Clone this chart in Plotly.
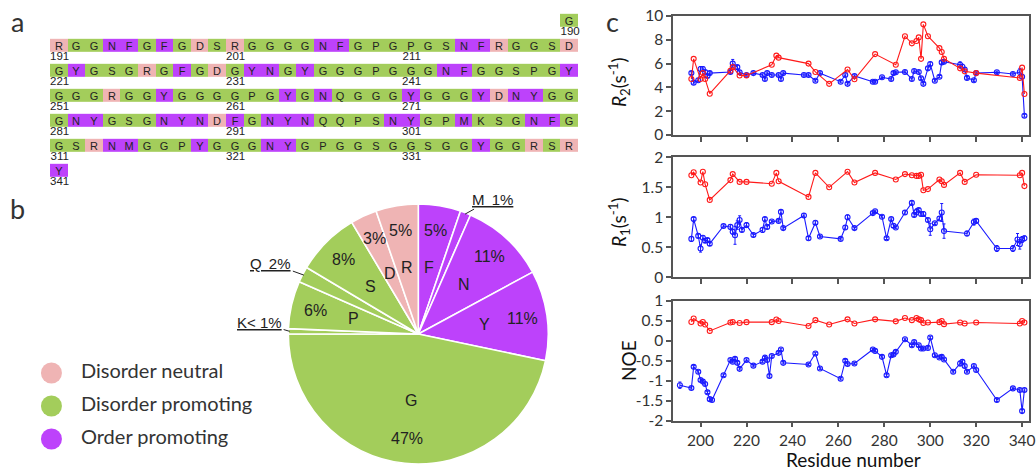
import numpy as np
import plotly.graph_objects as go

W, H = 1036, 470

# ---------------- data: sequence panel (a) ----------------
sequence = ("G"
            "RGGNFGFGDSRGGGGNFGPGPGSNFRGGSD"
            "GYGSGRGFGDGYNGYGGGPGGGNFGGSPGY"
            "GGGRGGYGGGGPGYGNQGGGYGGGYDNYGG"
            "GNYGSGNYNDFGNYNQQPSNYGPMKSGNFG"
            "GSRNMGGPYGGGNYGPGGSGGSGGYGGRSR"
            "Y")
first_residue = 190
row_start_residue = 191
residues_per_row = 30
label_residues = [190, 191, 201, 211, 221, 231, 241, 251, 261, 271, 281, 291,
                  301, 311, 321, 331, 341]

categories = ["Disorder neutral", "Disorder promoting", "Order promoting"]
category_members = [["D", "R"], ["G", "S", "P", "Q", "K"], ["F", "N", "Y", "M"]]
category_colors = ["#efb4b4", "#a3cd5b", "#bd42fb"]

# ---------------- data: composition pie (b) ----------------
pie_labels = ["F", "M", "N", "Y", "G", "K", "P", "Q", "S", "D", "R"]
pie_counts = [8, 2, 16, 17, 71, 1, 9, 3, 12, 5, 8]
pie_pct = ["5%", "1%", "11%", "11%", "47%", "< 1%", "6%", "2%", "8%", "3%", "5%"]
pie_outside = ["M", "Q", "K"]

# ---------------- data: relaxation (c) ----------------
red_res = [196, 197, 200, 201, 202, 204, 213, 214, 217, 220, 231, 233, 234, 247, 250,
           256, 264, 267, 276, 285, 289, 292, 294, 295, 296, 297, 299, 304, 305, 306,
           313, 315, 320, 339, 340, 341]
red_r2 = [4.7, 6.4, 4.7, 5.2, 4.7, 3.47, 5.4, 5.7, 5.0, 5.0, 5.9, 6.67, 6.5, 6.0, 5.3,
          4.3, 5.5, 4.68, 6.8, 5.9, 8.3, 7.7, 7.9, 8.2, 6.4, 9.3, 8.3, 7.3, 6.97, 6.4,
          5.6, 5.35, 5.2, 4.8, 5.66, 3.45]
red_r1 = [1.70, 1.75, 1.58, 1.76, 1.55, 1.29, 1.62, 1.72, 1.59, 1.59, 1.56, 1.74, 1.60,
          1.34, 1.74, 1.50, 1.76, 1.58, 1.74, 1.63, 1.72, 1.70, 1.69, 1.69, 1.71, 1.45,
          1.47, 1.63, 1.60, 1.54, 1.74, 1.59, 1.71, 1.70, 1.74, 1.52]
red_noe = [0.475, 0.56, 0.435, 0.475, 0.41, 0.25, 0.46, 0.475, 0.45, 0.47, 0.47, 0.535,
           0.50, 0.375, 0.52, 0.41, 0.54, 0.435, 0.54, 0.49, 0.575, 0.52, 0.575, 0.54,
           0.52, 0.45, 0.46, 0.47, 0.50, 0.42, 0.46, 0.435, 0.46, 0.435, 0.50, 0.46]

blue_r2_res = [196, 197, 199, 200, 201, 202, 203, 204, 213, 214, 216, 217, 220, 223, 227,
               228, 229, 231, 234, 235, 236, 245, 247, 250, 252, 261, 263, 264, 267, 275,
               276, 279, 283, 284, 285, 289, 292, 293, 295, 296, 297, 299, 300, 302, 304,
               305, 306, 313, 314, 315, 316, 319, 320, 329, 336, 339, 340, 341]
blue_r2 = [5.2, 4.4, 4.6, 5.55, 5.55, 5.3, 4.96, 5.2, 5.3, 6.0, 5.7, 5.27, 5.04, 5.2, 5.04,
           4.7, 5.2, 5.04, 5.04, 4.7, 5.2, 5.04, 5.04, 4.56, 5.2, 4.48, 5.04, 4.3, 4.96, 4.48,
           4.48, 4.85, 4.7, 5.2, 5.27, 5.3, 4.7, 5.38, 5.3, 4.76, 4.3, 5.6, 5.97, 4.56, 4.9,
           6.1, 6.16, 5.9, 5.74, 5.5, 4.8, 4.6, 5.2, 5.27, 5.13, 5.3, 4.9, 1.62]
blue_r2_err = [0.12, 0.12, 0.12, 0.2, 0.2, 0.12, 0.12, 0.12, 0.12, 0.35, 0.15, 0.12, 0.1, 0.1, 0.1,
               0.1, 0.1, 0.1, 0.1, 0.1, 0.1, 0.1, 0.1, 0.1, 0.1, 0.1, 0.1, 0.1, 0.1, 0.1,
               0.1, 0.1, 0.1, 0.1, 0.1, 0.1, 0.1, 0.1, 0.1, 0.1, 0.1, 0.12, 0.15, 0.1, 0.1,
               0.12, 0.12, 0.25, 0.2, 0.15, 0.12, 0.1, 0.1, 0.1, 0.1, 0.3, 0.15, 0.12]

blue_r1_res = [196, 197, 199, 200, 201, 202, 203, 204, 210, 213, 214, 215, 216, 217, 218,
               220, 223, 227, 228, 229, 231, 234, 235, 236, 245, 247, 250, 252, 261, 263,
               264, 267, 275, 276, 279, 281, 283, 284, 285, 289, 292, 293, 294, 295, 296,
               297, 299, 300, 302, 304, 305, 306, 316, 319, 320, 329, 336, 338, 339, 340, 341]
blue_r1 = [0.64, 0.97, 0.69, 0.48, 0.66, 0.61, 0.62, 0.56, 0.855, 0.84, 0.76, 0.70, 0.87,
           0.955, 0.79, 0.87, 0.705, 0.79, 0.97, 0.84, 0.93, 0.94, 1.09, 0.82, 1.03, 0.65,
           0.91, 0.68, 0.64, 0.83, 1.0, 0.82, 1.07, 1.10, 1.01, 0.65, 0.97, 0.86, 0.83, 1.08,
           1.24, 1.04, 1.09, 1.12, 1.055, 1.055, 0.955, 0.8, 0.9, 0.98, 1.08, 0.77, 0.73,
           0.92, 0.94, 0.48, 0.48, 0.63, 0.55, 0.63, 0.65]
blue_r1_err = [0.04, 0.03, 0.03, 0.06, 0.03, 0.03, 0.03, 0.03, 0.02, 0.04, 0.04, 0.15, 0.07,
               0.07, 0.03, 0.04, 0.03, 0.04, 0.03, 0.03, 0.02, 0.02, 0.03, 0.02, 0.03, 0.03,
               0.03, 0.02, 0.02, 0.03, 0.04, 0.02, 0.02, 0.02, 0.02, 0.02, 0.02, 0.03, 0.02, 0.03,
               0.03, 0.03, 0.05, 0.03, 0.03, 0.04, 0.03, 0.1, 0.02, 0.03, 0.15, 0.12, 0.04,
               0.05, 0.03, 0.05, 0.05, 0.1, 0.08, 0.05, 0.04]

blue_noe_res = [191, 196, 197, 199, 200, 201, 202, 203, 204, 205, 210, 213, 214, 215, 216,
                217, 220, 223, 227, 228, 229, 230, 231, 234, 235, 236, 247, 250, 252, 261,
                263, 264, 267, 275, 276, 279, 281, 283, 284, 285, 289, 292, 293, 295, 296,
                297, 299, 300, 302, 304, 305, 306, 310, 313, 314, 315, 316, 319, 320, 329,
                336, 339, 340, 341]
blue_noe = [-1.11, -1.18, -0.65, -0.775, -0.98, -1.02, -1.08, -1.29, -1.46, -1.48, -0.86,
            -0.48, -0.52, -0.45, -0.55, -0.70, -0.48, -0.62, -0.52, -0.42, -0.48, -0.88,
            -0.38, -0.30, -0.215, -0.55, -0.59, -0.315, -0.69, -0.95, -0.50, -0.58, -0.565,
            -0.215, -0.25, -0.40, -0.86, -0.36, -0.34, -0.275, 0.04, -0.11, -0.03, -0.11,
            -0.19, -0.19, -0.175, 0.085, -0.36, -0.415, -0.40, -0.465, -0.775, -0.565,
            -0.525, -0.63, -0.775, -0.63, -0.73, -1.48, -1.19, -1.23, -1.76, -1.23]
blue_noe_err = [0.08, 0.03, 0.03, 0.03, 0.03, 0.03, 0.03, 0.03, 0.03, 0.03, 0.03,
                0.03, 0.03, 0.03, 0.03, 0.03, 0.03, 0.03, 0.03, 0.03, 0.03, 0.03,
                0.03, 0.03, 0.03, 0.03, 0.03, 0.03, 0.03, 0.03, 0.03, 0.03, 0.03,
                0.03, 0.03, 0.03, 0.03, 0.03, 0.03, 0.03, 0.03, 0.03, 0.03, 0.03,
                0.03, 0.03, 0.03, 0.03, 0.03, 0.03, 0.03, 0.03, 0.03, 0.06,
                0.05, 0.03, 0.03, 0.03, 0.03, 0.04, 0.03, 0.03, 0.04, 0.03]

x_ticks = [200, 220, 240, 260, 280, 300, 320, 340]

# ---------------- helpers ----------------
TXT = "#333333"
AX_FONT = "Lato, 'Open Sans', sans-serif"
SEQ_FONT = "'Liberation Sans', Arial, sans-serif"


def px_x(p):
    return p / W


def px_y(p):
    return 1 - p / H


def cat_of(aa):
    for i, mem in enumerate(category_members):
        if aa in mem:
            return i
    return None


fig = go.Figure()

# ---------------- panel a: sequence grid ----------------
n_rows = (len(sequence) - 1 + residues_per_row - 1) // residues_per_row + 2
z = [[None] * residues_per_row for _ in range(n_rows)]
txt = [[""] * residues_per_row for _ in range(n_rows)]
for k, aa in enumerate(sequence):
    res = first_residue + k
    idx = res - row_start_residue
    row = idx // residues_per_row + 1
    col = idx % residues_per_row
    z[row][col] = cat_of(aa)
    txt[row][col] = aa

cs = [[0, category_colors[0]], [0.25, category_colors[0]],
      [0.25, category_colors[1]], [0.75, category_colors[1]],
      [0.75, category_colors[2]], [1, category_colors[2]]]
fig.add_trace(go.Heatmap(
    z=z, text=txt, texttemplate="%{text}", zmin=0, zmax=2, colorscale=cs,
    showscale=False, ygap=12, xgap=0, hoverinfo="skip",
    textfont=dict(family=SEQ_FONT, size=11, color="#222222"),
    xaxis="x", yaxis="y"))

lab_x, lab_y, lab_t = [], [], []
for res in label_residues:
    idx = res - row_start_residue
    lab_x.append(idx % residues_per_row + 0.05)
    lab_y.append(idx // residues_per_row + 1 + 0.47)
    lab_t.append(str(res))
fig.add_trace(go.Scatter(
    x=lab_x, y=lab_y, text=lab_t, mode="text", textposition="middle center",
    textfont=dict(family=SEQ_FONT, size=11.5, color="#222222"), cliponaxis=False,
    hoverinfo="skip", showlegend=False, xaxis="x", yaxis="y"))

# ---------------- panel b: pie ----------------
cat_idx = [cat_of(l) for l in pie_labels]
slice_colors = [category_colors[c] for c in cat_idx]
pie_cx, pie_cy, pie_r = 418.3, 334.0, 130.0
fig.add_trace(go.Pie(
    values=pie_counts, labels=pie_labels, sort=False, direction="clockwise",
    rotation=0, textinfo="none", hoverinfo="skip", showlegend=False,
    marker=dict(colors=slice_colors, line=dict(color="white", width=1.6)),
    domain=dict(x=[px_x(pie_cx - pie_r), px_x(pie_cx + pie_r)],
                y=[px_y(pie_cy + pie_r), px_y(pie_cy - pie_r)])))

annotations = []
tot = float(sum(pie_counts))
cum = np.cumsum([0] + pie_counts)
outside_offsets = {"M": (27, -15), "Q": (-33, -12), "K": (-30, -9)}
for i, lab in enumerate(pie_labels):
    mid = 2 * np.pi * (cum[i] + pie_counts[i] / 2) / tot
    sx, sy = np.sin(mid), -np.cos(mid)
    if lab in pie_outside:
        ex, ey = pie_cx + pie_r * 0.99 * sx, pie_cy + pie_r * 0.99 * sy
        ox, oy = outside_offsets[lab]
        annotations.append(dict(
            x=px_x(ex), y=px_y(ey), xref="paper", yref="paper",
            text="<u>%s%s%s</u>" % (lab, "" if pie_pct[i].startswith("<") else "\u2009 ", pie_pct[i]),
            showarrow=True, arrowhead=0, arrowwidth=1, arrowcolor="#222222",
            ax=ox, ay=oy, font=dict(family=SEQ_FONT, size=15, color="#222222")))
    else:
        for f, t in ((0.515, lab), (0.81, pie_pct[i])):
            annotations.append(dict(
                x=px_x(pie_cx + pie_r * f * sx), y=px_y(pie_cy + pie_r * f * sy),
                xref="paper", yref="paper", text=t, showarrow=False,
                xanchor="center", yanchor="middle",
                font=dict(family=SEQ_FONT, size=16, color="#222222")))

# legend for categories
fig.add_trace(go.Scatter(
    x=[0.0] * 3, y=[0, 1, 2], mode="markers+text",
    text=["   " + c for c in categories], textposition="middle right",
    marker=dict(size=21, color=category_colors, line=dict(width=0)),
    textfont=dict(family=AX_FONT, size=20, color="#333333"),
    hoverinfo="skip", showlegend=False, xaxis="x2", yaxis="y2", cliponaxis=False))

# ---------------- panel c: relaxation ----------------
RED, BLUE = "#ff1a1a", "#1a1aff"
panels = [("3", red_r2, blue_r2_res, blue_r2, blue_r2_err),
          ("4", red_r1, blue_r1_res, blue_r1, blue_r1_err),
          ("5", red_noe, blue_noe_res, blue_noe, blue_noe_err)]
for ax, rv, bx, bv, be in panels:
    fig.add_trace(go.Scatter(
        x=bx, y=bv, mode="lines+markers",
        line=dict(color=BLUE, width=1.1),
        marker=dict(symbol="circle-open", size=5, color=BLUE, line=dict(width=1.1)),
        error_y=dict(type="data", array=be, color=BLUE, thickness=1, width=1.5),
        hoverinfo="skip", showlegend=False, xaxis="x" + ax, yaxis="y" + ax))
    fig.add_trace(go.Scatter(
        x=red_res, y=rv, mode="lines+markers",
        line=dict(color=RED, width=1.1),
        marker=dict(symbol="circle-open", size=5, color=RED, line=dict(width=1.1)),
        hoverinfo="skip", showlegend=False, xaxis="x" + ax, yaxis="y" + ax))

xdom = [px_x(673), px_x(1029)]
common_x = dict(domain=xdom, range=[188, 343], tickvals=x_ticks, ticks="outside",
                ticklen=5, tickwidth=1.5, tickcolor="#555555", showline=True,
                linecolor="#555555", linewidth=1.5, mirror=True, showgrid=False,
                zeroline=False, automargin=False,
                tickfont=dict(family=AX_FONT, size=15.5, color=TXT))
common_y = dict(ticks="outside", ticklen=5, tickwidth=1.5, tickcolor="#555555",
                showline=True, linecolor="#555555", linewidth=1.5, mirror=True,
                showgrid=False, zeroline=False, automargin=False,
                tickfont=dict(family=AX_FONT, size=15.5, color=TXT))

r2_ticks = [0, 2, 4, 6, 8, 10]
r1_ticks = [0, 0.5, 1, 1.5, 2]
noe_ticks = [-2, -1.5, -1, -0.5, 0, 0.5, 1]


def tt(v):
    return "%g" % v


fig.update_layout(
    width=W, height=H, margin=dict(l=0, r=0, t=0, b=0, pad=0, autoexpand=False),
    paper_bgcolor="white", plot_bgcolor="rgba(0,0,0,0)", showlegend=False,
    xaxis=dict(domain=[px_x(50), px_x(578)], range=[-0.5, 29.5], visible=False,
               fixedrange=True, automargin=False),
    yaxis=dict(domain=[px_y(182.8), px_y(7.8)], range=[6.5, -0.5], visible=False,
               fixedrange=True, automargin=False),
    xaxis2=dict(domain=[px_x(41), px_x(300)], range=[-0.042, 1], visible=False,
                automargin=False),
    yaxis2=dict(domain=[px_y(455.5), px_y(356.5)], range=[2.5, -0.5], visible=False,
                automargin=False),
    xaxis3=dict(common_x, anchor="y3", showticklabels=False),
    yaxis3=dict(common_y, domain=[px_y(135), px_y(16)], range=[0, 10], anchor="x3",
                tickvals=r2_ticks, ticktext=[tt(v) for v in r2_ticks]),
    xaxis4=dict(common_x, anchor="y4", showticklabels=False),
    yaxis4=dict(common_y, domain=[px_y(277.3), px_y(157.3)], range=[0, 2], anchor="x4",
                tickvals=r1_ticks, ticktext=[tt(v) for v in r1_ticks]),
    xaxis5=dict(common_x, anchor="y5"),
    yaxis5=dict(common_y, domain=[px_y(420.7), px_y(301)], range=[-2, 1], anchor="x5",
                tickvals=noe_ticks, ticktext=[tt(v) for v in noe_ticks]),
)

# panel letters and axis titles
for letter, x, y in (("a", 17, 22), ("b", 17, 208), ("c", 612, 22)):
    annotations.append(dict(x=px_x(x), y=px_y(y), xref="paper", yref="paper",
                            text=letter, showarrow=False, xanchor="center",
                            yanchor="middle",
                            font=dict(family=AX_FONT, size=27, color=TXT)))
for t, x, y in (("<i>R</i><sub>2</sub>(s<sup>-1</sup>)", 619, 82),
                ("<i>R</i><sub>1</sub>(s<sup>-1</sup>)", 619, 222),
                ("NOE", 628, 361)):
    annotations.append(dict(x=px_x(x), y=px_y(y), xref="paper", yref="paper",
                            text=t, showarrow=False, textangle=-90,
                            xanchor="center", yanchor="middle",
                            font=dict(family=AX_FONT, size=19, color="#111111")))
annotations.append(dict(x=px_x(853), y=px_y(459), xref="paper", yref="paper",
                        text="Residue number", showarrow=False,
                        xanchor="center", yanchor="middle",
                        font=dict(family=AX_FONT, size=19, color="#111111")))
fig.update_layout(annotations=annotations)

fig.write_html("out.html", config={"displayModeBar": False},
               post_script="document.body.style.margin='0px';"
                           "document.body.style.overflow='hidden';")
